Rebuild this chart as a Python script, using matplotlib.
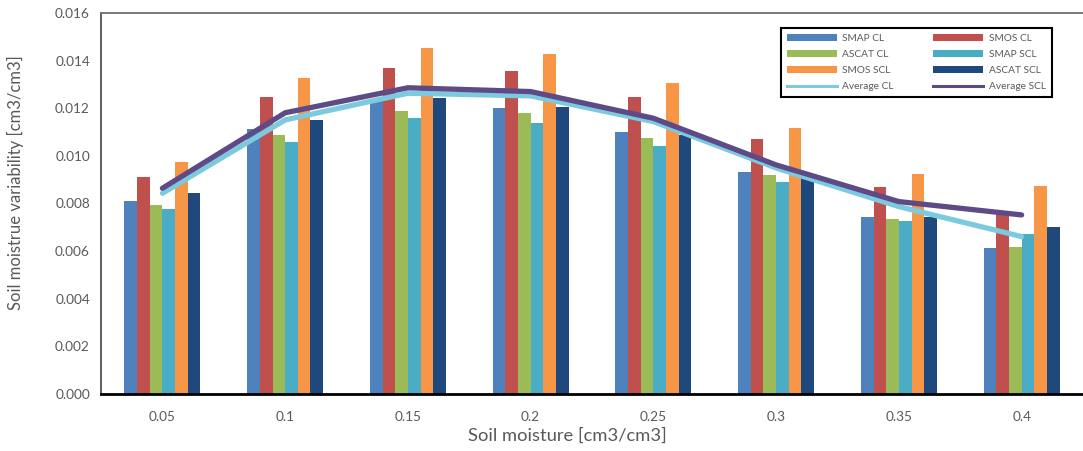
import numpy as np
import matplotlib.pyplot as plt
from matplotlib.patches import Patch
from matplotlib.lines import Line2D

plt.rcParams["font.family"] = ["Lato", "DejaVu Sans"]

categories = ["0.05", "0.1", "0.15", "0.2", "0.25", "0.3", "0.35", "0.4"]

smap_cl = [0.0081, 0.01112, 0.0123, 0.01201, 0.0110, 0.00932, 0.00745, 0.00612]
smos_cl = [0.0091, 0.01249, 0.01371, 0.01357, 0.01249, 0.01072, 0.00868, 0.00755]
ascat_cl = [0.00792, 0.01086, 0.01189, 0.01179, 0.01077, 0.0092, 0.00734, 0.00616]
smap_scl = [0.00777, 0.01057, 0.01158, 0.01138, 0.01042, 0.0089, 0.00727, 0.00671]
smos_scl = [0.00976, 0.01326, 0.01454, 0.01428, 0.01306, 0.01117, 0.00925, 0.00874]
ascat_scl = [0.00844, 0.01149, 0.01242, 0.01207, 0.01088, 0.0092, 0.00745, 0.0070]

average_cl = [0.00843, 0.01151, 0.01263, 0.01252, 0.01144, 0.00949, 0.00787, 0.00661]
average_scl = [0.00864, 0.01181, 0.01286, 0.0127, 0.01158, 0.00962, 0.00808, 0.00752]

bar_series = [
    ("SMAP CL", smap_cl, "#4f81bd"),
    ("SMOS CL", smos_cl, "#c0504d"),
    ("ASCAT CL", ascat_cl, "#9bbb59"),
    ("SMAP SCL", smap_scl, "#4bacc6"),
    ("SMOS SCL", smos_scl, "#f79646"),
    ("ASCAT SCL", ascat_scl, "#1f497d"),
]

cl_color = "#7ccade"
scl_color = "#5e4a86"
text_color = "#595959"

x = np.arange(len(categories))
bar_width = 0.103

fig = plt.figure(figsize=(10.83, 4.51), dpi=100)
ax = fig.add_axes([0.0933, 0.1264, 0.9067, 0.8448])

for i, (name, values, color) in enumerate(bar_series):
    ax.bar(x + (i - 2.5) * bar_width, values, width=bar_width, color=color, zorder=2)

ax.plot(x, average_cl, color=cl_color, linewidth=3.8, solid_capstyle="round", zorder=3)
ax.plot(x, average_scl, color=scl_color, linewidth=3.8, solid_capstyle="round", zorder=4)

ax.set_xlim(-0.5, len(categories) - 0.5)
ax.set_ylim(0, 0.016)
ax.set_xticks(x)
ax.set_xticklabels(categories)
ax.set_yticks(np.arange(0, 0.0161, 0.002))
ax.set_yticklabels([f"{v:.3f}" for v in np.arange(0, 0.0161, 0.002)])
ax.tick_params(axis="both", length=0, labelsize=9.8, labelcolor=text_color)
ax.tick_params(axis="x", pad=12)
ax.tick_params(axis="y", pad=8)

ax.set_xlabel("Soil moisture [cm3/cm3]", fontsize=13.2, color=text_color)
ax.xaxis.set_label_coords(0.4745, -0.088)
ax.set_ylabel("Soil moistrue variability [cm3/cm3]", fontsize=12, color=text_color)
ax.yaxis.set_label_coords(-0.078, 0.556)

ax.spines["right"].set_visible(False)
ax.spines["top"].set_color("#6e6e6e")
ax.spines["top"].set_linewidth(1.3)
ax.spines["left"].set_color("#505050")
ax.spines["left"].set_linewidth(1.3)
ax.spines["bottom"].set_color("black")
ax.spines["bottom"].set_linewidth(2.0)

handles = {name: Patch(facecolor=color, edgecolor="none") for name, _, color in bar_series}
handles["Average CL"] = Line2D([], [], color=cl_color, linewidth=2.2)
handles["Average SCL"] = Line2D([], [], color=scl_color, linewidth=2.2)

# two columns filled top to bottom, so pair up entries row by row
order = ["SMAP CL", "ASCAT CL", "SMOS SCL", "Average CL",
         "SMOS CL", "SMAP SCL", "ASCAT SCL", "Average SCL"]

leg = ax.legend(
    [handles[n] for n in order],
    order,
    ncol=2,
    loc="upper left",
    bbox_to_anchor=(781 / 1083, 1 - 28 / 451),
    bbox_transform=fig.transFigure,
    borderaxespad=0,
    fontsize=7.3,
    handlelength=4.9,
    handleheight=0.7,
    handletextpad=0.55,
    columnspacing=3.9,
    labelspacing=0.68,
    borderpad=0.6,
    fancybox=False,
    framealpha=1,
)
leg.get_frame().set_edgecolor("black")
leg.get_frame().set_linewidth(1.5)
for t in leg.get_texts():
    t.set_color(text_color)

fig.savefig("out.png", dpi=100)
